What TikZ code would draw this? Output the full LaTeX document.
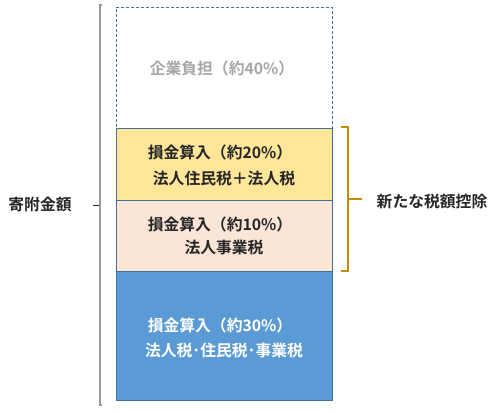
\documentclass[tikz,border=0pt]{standalone}
\usepackage{fontspec}
\setmainfont{Noto Sans CJK JP}[UprightFont=* Bold]
\definecolor{edge}{HTML}{41719C}
\definecolor{yel}{HTML}{FFE699}
\definecolor{pnk}{HTML}{FBE5D6}
\definecolor{blu}{HTML}{5B9BD5}
\definecolor{gold}{HTML}{BF9000}
\definecolor{txt}{HTML}{262626}
\definecolor{lgray}{HTML}{A6A6A6}
\begin{document}
\begin{tikzpicture}[x=1pt,y=-1pt,
  band/.style={draw=edge,line width=1.3pt,minimum width=216pt,anchor=north west,inner sep=0pt},
  lbl/.style={font=\fontsize{15.8}{18}\selectfont,text=txt,inner sep=0pt}]
\useasboundingbox (0,0) rectangle (497,414);
\node[draw=edge,dashed,dash pattern=on 3pt off 2pt,line width=0.8pt,minimum width=216pt,minimum height=121pt,anchor=north west,inner sep=0pt] (top) at (116,7) {};
\node[band,fill=yel,minimum height=72pt] (yb) at (116,128) {};
\node[band,fill=pnk,minimum height=71pt] (pb) at (116,200) {};
\node[band,fill=blu,minimum height=129pt] (bb) at (116,271) {};
\node[lbl,text=lgray] (t0) at (222,68) {企業負担（約40\%）};
\node[lbl] (t1) at (220,152) {損金算入（約20\%）};
\node[lbl] (t2) at (224,178) {法人住民税＋法人税};
\node[lbl] (t3) at (220,224) {損金算入（約10\%）};
\node[lbl] (t4) at (224,248) {法人事業税};
\node[lbl,text=white] (t5) at (220,325) {損金算入（約30\%）};
\node[lbl,text=white] (t6) at (224,350) {法人税･住民税･事業税};
\node[lbl] (lk) at (40,204) {寄附金額};
\node[lbl] (rk) at (432,202) {新たな税額控除};
% left bracket
\draw[color=gray!80,line width=2pt] (102,5) -- (100,5) -- (100,405) -- (102,405);
\draw[color=txt,line width=1pt] (93,205) -- (99,205);
% right brace
\coordinate (bt) at (341,127);
\coordinate (bbm) at (341,271);
\coordinate (bm) at (348,199);
\coordinate (be) at (362,199);
\draw[color=gold,line width=2pt] (bt) -- (348,127) -- (348,271) -- (bbm);
\draw[color=gold,line width=2pt] (bm) -- (be);
\end{tikzpicture}
\end{document}
